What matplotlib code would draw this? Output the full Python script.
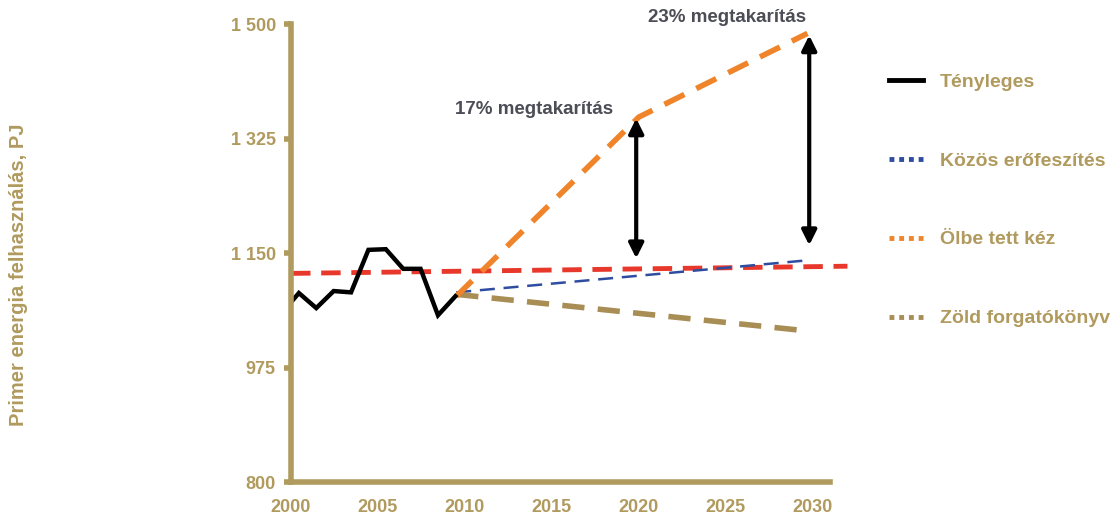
import matplotlib.pyplot as plt
from matplotlib.lines import Line2D

plt.rcParams['font.family'] = ['Liberation Sans', 'DejaVu Sans']
plt.rcParams['font.weight'] = 'bold'

tan = '#B09A5E'
gray_txt = '#4D4D57'

# Tényleges (tényleges fogyasztás)
actual_years = [2000, 2000.45, 2001.45, 2002.45, 2003.45, 2004.45, 2005.45, 2006.45, 2007.45, 2008.45, 2009.45]
actual_vals = [1075, 1089, 1066, 1092, 1090, 1155, 1156, 1126, 1126, 1055, 1084]

# piros referencia vonal
ref_years = [2000, 2032]
ref_vals = [1119, 1130]

# forgatókönyvek
orange_years = [2009.5, 2020, 2029.7]
orange_vals = [1084, 1358, 1486]
blue_years = [2009.5, 2029.7]
blue_vals = [1090, 1139]
green_years = [2009.5, 2029.7]
green_vals = [1087, 1031]

# megtakarítás nyilak: x, felső, alsó
arrow_x = [2019.85, 2029.8]
arrow_top = [1356, 1483]
arrow_bottom = [1142, 1162]
savings = ['17% megtakarítás', '23% megtakarítás']
savings_pos = [(2014, 1370), (2025.1, 1511)]

legend_labels = ['Tényleges', 'Közös erőfeszítés', 'Ölbe tett kéz', 'Zöld forgatókönyv']

fig = plt.figure(figsize=(11.16, 5.15), dpi=100)
ax = fig.add_axes([0.2608, 0.064, 0.483, 0.889])

ax.plot(ref_years, ref_vals, color='#E8382B', lw=3.5, dashes=(4, 2.2), clip_on=False)
ax.plot(blue_years, blue_vals, color='#2E4DA0', lw=1.8, dashes=(6, 3.5), clip_on=False)
ax.plot(green_years, green_vals, color='#A88D55', lw=4, dashes=(4, 2.4), clip_on=False)
ax.plot(orange_years, orange_vals, color='#F0842A', lw=4, dashes=(4, 2.4), clip_on=False)
ax.plot(actual_years, actual_vals, color='black', lw=3.2, solid_joinstyle='miter')

for x, t, b in zip(arrow_x, arrow_top, arrow_bottom):
    ax.annotate('', xy=(x, t), xytext=(x, b),
                arrowprops=dict(arrowstyle='<|-|>', color='black', lw=3,
                                mutation_scale=22, shrinkA=0, shrinkB=0))

for s, (x, y) in zip(savings, savings_pos):
    ax.text(x, y, s, ha='center', va='center', fontsize=13.5, fontweight='bold',
            color=gray_txt, clip_on=False)

ax.set_xlim(2000, 2031)
ax.set_ylim(800, 1500)
ax.set_xticks([2000, 2005, 2010, 2015, 2020, 2025, 2030])
ax.set_yticks([800, 975, 1150, 1325, 1500])
ax.set_yticklabels(['800', '975', '1 150', '1 325', '1 500'])

for side in ['top', 'right']:
    ax.spines[side].set_visible(False)
for side in ['left', 'bottom']:
    ax.spines[side].set_color(tan)
    ax.spines[side].set_linewidth(4)
ax.tick_params(axis='x', length=0, pad=12, labelsize=13, labelcolor=tan)
ax.tick_params(axis='y', length=5, width=4, color=tan, pad=6, labelsize=13, labelcolor=tan)
for lab in ax.get_xticklabels() + ax.get_yticklabels():
    lab.set_fontweight('bold')

fig.text(0.017, 1 - 275 / 515, 'Primer energia felhasználás, PJ', rotation=90,
         ha='center', va='center', fontsize=14.5, fontweight='bold', color=tan)

handles = [
    Line2D([], [], color='black', lw=3.5),
    Line2D([], [], color='#2E4DA0', lw=3.5, dashes=(1, 1)),
    Line2D([], [], color='#F0842A', lw=3.5, dashes=(1, 1)),
    Line2D([], [], color='#A88D55', lw=3.5, dashes=(1, 1)),
]
leg = fig.legend(handles, legend_labels, loc='upper left', bbox_to_anchor=(0.781, 0.892),
                 frameon=False, handlelength=1.75, handletextpad=0.85, labelspacing=3.15,
                 prop={'size': 14, 'weight': 'bold'})
for t in leg.get_texts():
    t.set_color(tan)

fig.savefig('out.png', dpi=100)
